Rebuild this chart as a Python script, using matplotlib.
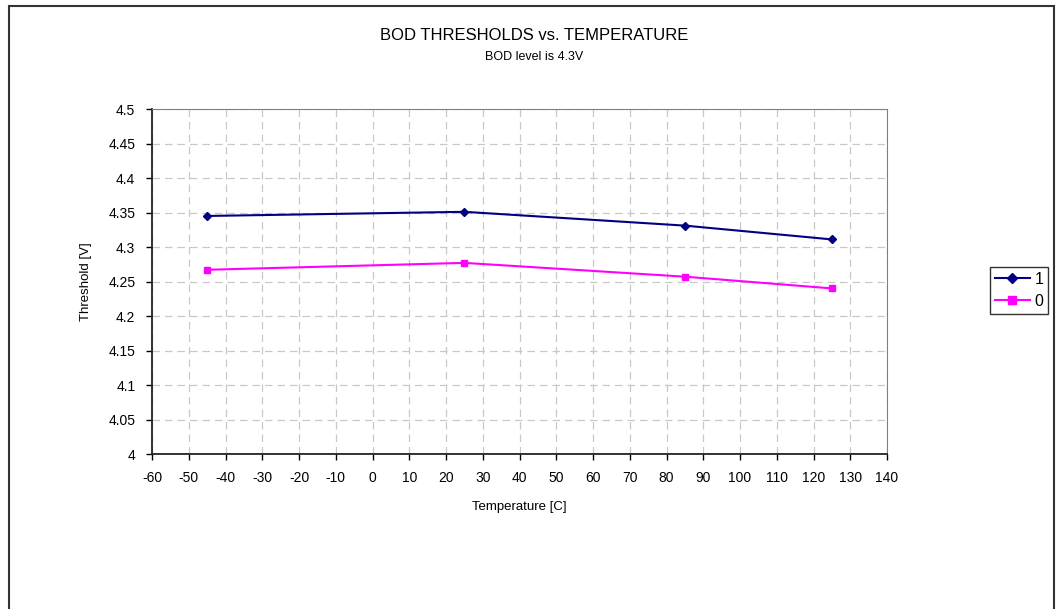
import numpy as np
from matplotlib import pyplot as plt
from matplotlib.patches import Rectangle

plt.rcParams['font.family'] = ['Liberation Sans', 'DejaVu Sans']
plt.rcParams['axes.unicode_minus'] = False

# data
temperature = [-45, 25, 85, 125]
level_1 = [4.345, 4.351, 4.331, 4.311]
level_0 = [4.267, 4.277, 4.257, 4.240]
series_names = ['1', '0']

fig = plt.figure(figsize=(10.57, 6.09), dpi=100)
ax = fig.add_axes([0.1438, 0.2545, 0.6954, 0.5665])

# outer chart frame
frame = Rectangle((9/1057, -0.1), (1054-9)/1057, 1.1 - 6/609, transform=fig.transFigure,
                  fill=False, edgecolor='#333333', linewidth=1.5, clip_on=False)
fig.patches.append(frame)

ax.plot(temperature, level_1, color='#000080', marker='D', markersize=4, linewidth=1.5, label=series_names[0])
ax.plot(temperature, level_0, color='#FF00FF', marker='s', markersize=5, linewidth=1.5, label=series_names[1])

ax.set_xlim(-60, 140)
ax.set_ylim(4, 4.5)
ax.set_xticks(np.arange(-60, 141, 10))
ax.set_yticks(np.arange(4, 4.501, 0.05))
ax.set_yticklabels(['4', '4.05', '4.1', '4.15', '4.2', '4.25', '4.3', '4.35', '4.4', '4.45', '4.5'])
ax.tick_params(axis='both', labelsize=10, length=4, width=1, direction='out', pad=8)
ax.grid(True, color='#c8c8c8', linestyle=(0, (6, 4)), linewidth=0.9)
ax.set_axisbelow(True)

for side in ['top', 'right']:
    ax.spines[side].set_color('#808080')
for side in ['left', 'bottom']:
    ax.spines[side].set_color('#222222')
    ax.spines[side].set_linewidth(1.3)

ax.set_xlabel('Temperature [C]', fontsize=9.5, labelpad=12)
ax.set_ylabel('Threshold [V]', fontsize=9.5, labelpad=12)

fig.text(0.505, 0.942, 'BOD THRESHOLDS vs. TEMPERATURE', ha='center', va='center', fontsize=12)
fig.text(0.505, 0.906, 'BOD level is 4.3V', ha='center', va='center', fontsize=9)

leg = ax.legend(loc='center left', bbox_to_anchor=(1.14, 0.475), fontsize=11.5, frameon=True,
                fancybox=False, edgecolor='black', handlelength=2.2, borderpad=0.3,
                labelspacing=0.45, handletextpad=0.3, borderaxespad=0, markerscale=1.2)
leg.get_frame().set_linewidth(1)

plt.savefig('out.png', dpi=100)
